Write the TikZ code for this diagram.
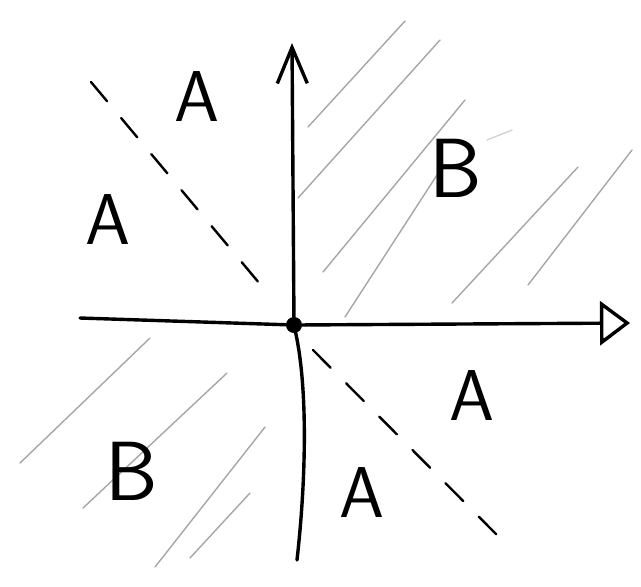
\documentclass[tikz,border=0pt]{standalone}
\usetikzlibrary{arrows.meta}

\begin{document}
\begin{tikzpicture}[x=0.5pt, y=-0.5pt,
  axis/.style={line width=1.7pt, line cap=round, line join=round},
  guide/.style={line width=1.2pt, dash pattern=on 12.5pt off 11pt, line cap=round},
  hatch/.style={draw=gray!70, line width=0.7pt, line cap=round},
  lblA/.style={font=\sffamily\fontsize{36}{36}\selectfont, inner sep=0pt},
  lblB/.style={font=\sffamily\fontsize{42}{42}\selectfont, inner sep=0pt},
  dot/.style={circle, draw, fill=black, line width=1pt, minimum size=7pt, inner sep=0pt}
]
  \useasboundingbox (0,0) rectangle (641,586);

  \node[dot] (origin) at (294,325) {};
  \coordinate (ytop) at (292,43);
  \coordinate (ybot) at (297,560);
  \coordinate (xleft) at (80,318);
  \coordinate (xright) at (630,323);

  \coordinate (g1a) at (91,82);
  \coordinate (g1b) at (270,296);
  \coordinate (g2a) at (313,350);
  \coordinate (g2b) at (499,537);

  % hatching, B regions
  \foreach \xa/\ya/\xb/\yb in {308/127/405/21, 298/198/440/40, 323/272/465/100,
      345/317/437/175, 452/303/578/167, 528/285/632/150,
      20/463/150/338, 83/508/227/373, 155/567/265/427, 190/558/250/493}
    \draw[hatch] (\xa,\ya) -- (\xb,\yb);
  \draw[hatch, draw=gray!35] (487,140) -- (512,130);

  \draw[guide] (g1a) -- (g1b);
  \draw[guide] (g2a) -- (g2b);

  \draw[axis, -{Straight Barb[length=18pt, width=15pt]}] (origin) -- (ytop);
  \draw[axis] (origin) .. controls (308,390) and (306,480) .. (ybot);
  \draw[axis, -{Triangle[open, length=15pt, width=22pt]}] (xleft) -- (origin) -- (xright);

  \node[lblA] (a1) at (197,97) {A};
  \node[lblA] (a2) at (108,220) {A};
  \node[lblB] (b1) at (456,168) {B};
  \node[lblA] (a3) at (472,395) {A};
  \node[lblA] (a4) at (362,492) {A};
  \node[lblB] (b2) at (132,471) {B};
\end{tikzpicture}
\end{document}
